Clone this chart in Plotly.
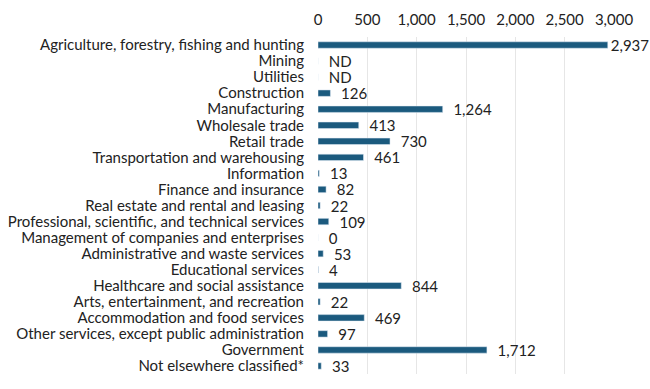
import plotly.graph_objects as go

categories = [
    "Agriculture, forestry, fishing and hunting", "Mining", "Utilities", "Construction",
    "Manufacturing", "Wholesale trade", "Retail trade", "Transportation and warehousing",
    "Information", "Finance and insurance", "Real estate and rental and leasing",
    "Professional, scientific, and technical services", "Management of companies and enterprises",
    "Administrative and waste services", "Educational services", "Healthcare and social assistance",
    "Arts, entertainment, and recreation", "Accommodation and food services",
    "Other services, except public administration", "Government", "Not elsewhere classified*",
]
values = [2937, None, None, 126, 1264, 413, 730, 461, 13, 82, 22, 109, 0, 53, 4, 844, 22, 469, 97, 1712, 33]
tick_vals = [0, 500, 1000, 1500, 2000, 2500, 3000]
tick_text = ["0", "500", "1,000", "1,500", "2,000", "2,500", "3,000"]

x_vals = [v if v is not None else 0 for v in values]
vmax = max(v for v in values if v is not None)
pad = "\u00a0\u00a0"
labels = []
for v in values:
    if v is None:
        labels.append(pad + "ND")
    elif v == vmax:
        labels.append(f"{v:,}")
    else:
        labels.append(pad + f"{v:,}")

fig = go.Figure(go.Bar(
    y=categories, x=x_vals, orientation="h",
    marker_color="#1b5a7e", text=labels, textposition="outside",
    constraintext="none", textangle=0,
    textfont=dict(size=15, color="#222"), cliponaxis=False,
))
fig.update_layout(
    width=650, height=389, margin=dict(l=318, r=36, t=37, b=15, autoexpand=False),
    plot_bgcolor="white", paper_bgcolor="white",
    font=dict(family="Lato", size=15, color="#222"),
    bargap=0.6, showlegend=False,
)
fig.update_xaxes(side="top", range=[0, 3000], tickvals=tick_vals, ticktext=tick_text,
                 showgrid=True, gridcolor="#e6e6e6", zeroline=False, tickfont=dict(size=15),
                 automargin=False, ticks="", ticklabelstandoff=8)
fig.update_yaxes(autorange="reversed", tickfont=dict(size=15), tickmode="array",
                 tickvals=categories, ticktext=categories, automargin=False,
                 ticks="", ticklabelstandoff=13)
fig.write_html("out.html", config={"displayModeBar": False},
               post_script="document.body.style.margin='0';document.body.style.overflow='hidden';")
